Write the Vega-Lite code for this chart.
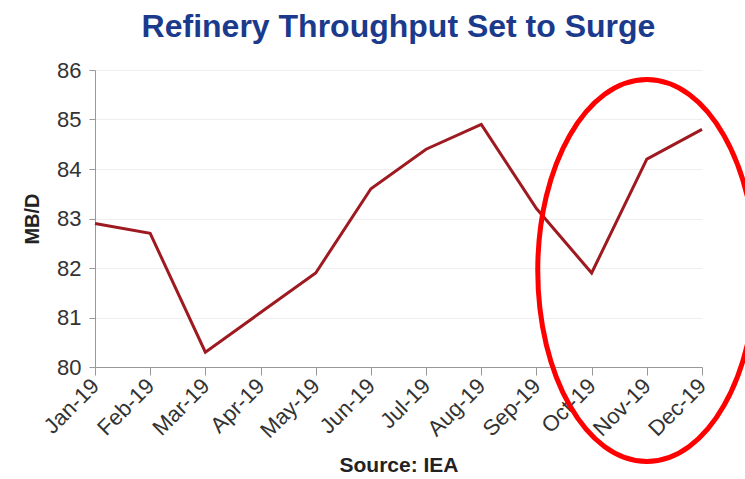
{
  "$schema": "https://vega.github.io/schema/vega-lite/v6.json",
  "autosize": "none",
  "width": 607,
  "height": 297,
  "padding": {"left": 95, "top": 70, "right": 43, "bottom": 112},
  "background": "white",
  "title": {
    "text": "Refinery Throughput Set to Surge",
    "font": "Liberation Sans",
    "fontSize": 32,
    "fontWeight": "bold",
    "color": "#1b3a8c",
    "anchor": "middle",
    "offset": 15
  },
  "datasets": {
    "series": [
      {"month": "Jan-19", "value": 82.9},
      {"month": "Feb-19", "value": 82.7},
      {"month": "Mar-19", "value": 80.3},
      {"month": "Apr-19", "value": 81.1},
      {"month": "May-19", "value": 81.9},
      {"month": "Jun-19", "value": 83.6},
      {"month": "Jul-19", "value": 84.4},
      {"month": "Aug-19", "value": 84.9},
      {"month": "Sep-19", "value": 83.2},
      {"month": "Oct-19", "value": 81.9},
      {"month": "Nov-19", "value": 84.2},
      {"month": "Dec-19", "value": 84.8}
    ],
    "highlight": [
      {"month": "Nov-19", "value": 81.95}
    ]
  },
  "config": {
    "view": {"stroke": null},
    "axis": {
      "labelFont": "Liberation Sans",
      "labelFontSize": 22,
      "labelColor": "#333333",
      "titleFont": "Liberation Sans",
      "titleFontSize": 20,
      "titleFontWeight": "bold",
      "titleColor": "#222222",
      "domainColor": "#999999",
      "tickColor": "#999999",
      "gridColor": "#eeeeee"
    }
  },
  "encoding": {
    "x": {
      "field": "month",
      "type": "ordinal",
      "sort": null,
      "scale": {"type": "point", "padding": 0},
      "axis": {
        "title": "Source: IEA",
        "titleFontSize": 21,
        "labelAngle": -45,
        "labelAlign": "right",
        "labelBaseline": "middle",
        "labelPadding": 7,
        "tickSize": 8,
        "grid": false,
        "titlePadding": 13
      }
    },
    "y": {
      "field": "value",
      "type": "quantitative",
      "scale": {"domain": [80, 86], "zero": false, "nice": false},
      "axis": {
        "title": "MB/D",
        "values": [80, 81, 82, 83, 84, 85, 86],
        "labelOverlap": false,
        "tickSize": 6,
        "labelPadding": 8,
        "titlePadding": 14,
        "grid": true
      }
    }
  },
  "layer": [
    {
      "data": {"name": "series"},
      "mark": {"type": "line", "color": "#9e1a20", "strokeWidth": 3}
    },
    {
      "data": {"name": "highlight"},
      "mark": {
        "type": "point",
        "shape": "M0,-1A0.571,1 0 1,1 0,1A0.571,1 0 1,1 0,-1Z",
        "filled": false,
        "stroke": "#ff0000",
        "strokeWidth": 5,
        "opacity": 1,
        "size": 145924
      }
    }
  ]
}
